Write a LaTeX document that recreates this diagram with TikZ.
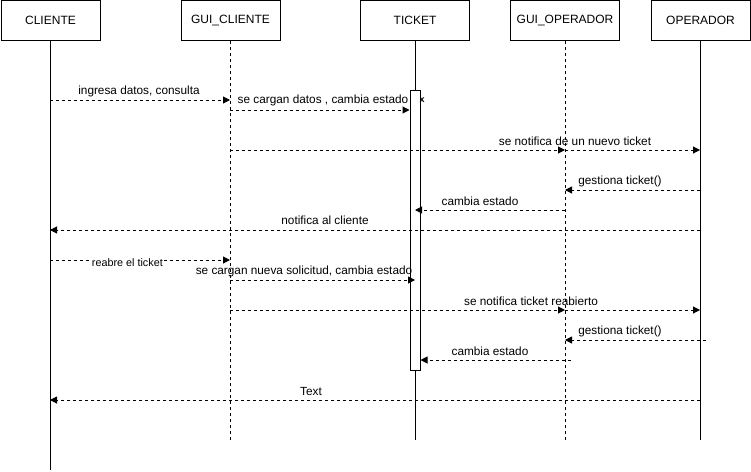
\documentclass[tikz,border=0pt]{standalone}
\usepackage{fontspec}
\setmainfont{Liberation Sans}
\usetikzlibrary{arrows.meta}
\begin{document}
\begin{tikzpicture}[x=1pt,y=-1pt,
  actor/.style={draw=black,line width=1pt,fill=white,minimum height=40pt,inner sep=0pt,font=\fontsize{12}{14}\selectfont},
  life/.style={line width=1pt},
  lifed/.style={line width=1pt,dash pattern=on 3pt off 3pt},
  msg/.style={line width=1pt,dash pattern=on 3pt off 3pt,-{Triangle[length=7pt,width=7pt]}},
  lbl/.style={inner sep=1pt,font=\fontsize{11.8}{13}\selectfont},
  bar/.style={draw=black,line width=1pt,fill=white,minimum width=10pt,minimum height=280pt,inner sep=0pt}]
\useasboundingbox (0,0) rectangle (751,471);
% actors
\node[actor,minimum width=99pt] (cli) at (50.5,20.5) {CLIENTE};
\node[actor,minimum width=99pt] (guic) at (230.5,20.5) {GUI\_CLIENTE};
\node[actor,minimum width=109pt] (tick) at (415,20.5) {TICKET};
\node[actor,minimum width=109pt] (guio) at (565,20.5) {GUI\_OPERADOR};
\node[actor,minimum width=99pt] (oper) at (700.5,20.5) {OPERADOR};
% lifeline ends
\coordinate (cliE) at (50,470);
\coordinate (guicE) at (230,440);
\coordinate (tickE) at (415,440);
\coordinate (guioE) at (565,440);
\coordinate (operE) at (700,440);
\draw[life] (cli.south -| cliE) -- (cliE);
\draw[lifed] (guic.south -| guicE) -- (guicE);
\draw[life] (tick.south -| tickE) -- (tickE);
\draw[lifed] (guio.south -| guioE) -- (guioE);
\draw[life] (oper.south -| operE) -- (operE);
% activation bar
\node[bar] (act) at (415,230) {};
% messages
\draw[msg] (cliE |- 0,100) -- (guicE |- 0,100);
\node[lbl] at (139,91) {ingresa datos, consulta};
\draw[msg] (guicE |- 0,110) -- (act.west |- 0,110);
\node[lbl] at (323,100) {se cargan datos , cambia estado};
\node[inner sep=0pt,font=\fontsize{9}{10}\selectfont\bfseries] at (422,100) {x};
\draw[msg] (guicE |- 0,150) -- (guioE |- 0,150);
\draw[msg] (guioE |- 0,150) -- (operE |- 0,150);
\node[lbl] at (575,141) {se notifica de un nuevo ticket};
\draw[msg] (operE |- 0,190) -- (guioE |- 0,190);
\node[lbl] at (620,181) {gestiona ticket()};
\draw[msg] (guioE |- 0,210) -- (tickE |- 0,210);
\node[lbl] at (480,201) {cambia estado};
\draw[msg] (operE |- 0,230) -- (cliE |- 0,230);
\node[lbl] at (325,220) {notifica al cliente};
\draw[msg] (cliE |- 0,260) -- node[pos=0.43,fill=white,inner sep=1pt,font=\fontsize{10.8}{12}\selectfont,yshift=-3pt]{reabre el ticket} (guicE |- 0,260);
\draw[msg] (guicE |- 0,280) -- (tickE |- 0,280);
\node[lbl] at (304,271) {se cargan nueva solicitud, cambia estado};
\draw[msg] (guicE |- 0,310) -- (guioE |- 0,310);
\draw[msg] (guioE |- 0,310) -- (operE |- 0,310);
\node[lbl] at (531,301) {se notifica ticket reabierto};
\coordinate (g2s) at (706,340);
\draw[msg] (g2s) -- (guioE |- 0,340);
\node[lbl] at (620,331) {gestiona ticket()};
\coordinate (c2s) at (571,360);
\draw[msg] (c2s) -- (act.east |- 0,360);
\node[lbl] at (490,351) {cambia estado};
\draw[msg] (operE |- 0,400) -- (cliE |- 0,400);
\node[lbl] at (311,391) {Text};
\end{tikzpicture}
\end{document}
